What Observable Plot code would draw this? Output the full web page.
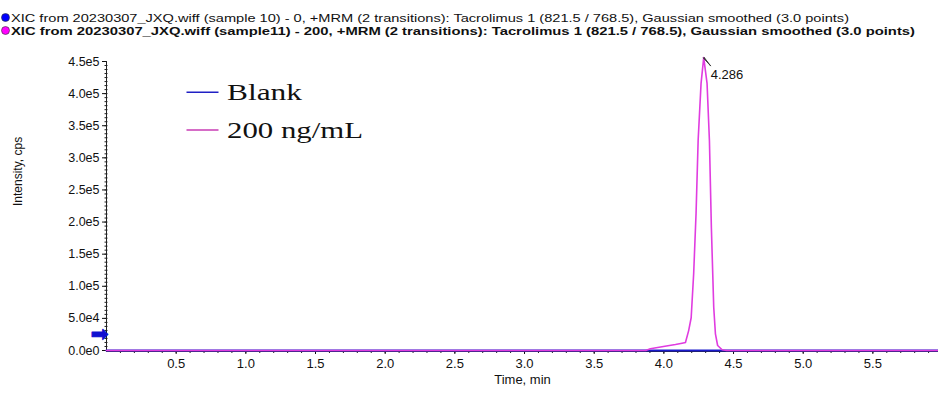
<!DOCTYPE html>
<html>
<head>
<meta charset="utf-8">
<script src="https://cdn.jsdelivr.net/npm/d3@7"></script>
<script src="https://cdn.jsdelivr.net/npm/@observablehq/plot@0.6"></script>
<style>
  html, body { margin: 0; padding: 0; background: #fff; }
  #wrap { position: relative; width: 938px; height: 394px; overflow: hidden; }
  #wrap svg { display: block; }
  #legend { position: absolute; left: 0; top: 0; pointer-events: none; }
</style>
</head>
<body>
<div id="wrap"></div>
<script>
// ---- data ----
const headerLines = [
  "XIC from 20230307_JXQ.wiff (sample 10) - 0, +MRM (2 transitions): Tacrolimus 1 (821.5 / 768.5), Gaussian smoothed (3.0 points)",
  "XIC from 20230307_JXQ.wiff (sample11) - 200, +MRM (2 transitions): Tacrolimus 1 (821.5 / 768.5), Gaussian smoothed (3.0 points)"
];
const seriesNames = ["Blank", "200 ng/mL"];
const seriesColors = ["#1a1acc", "#e03ce0"];
const legendColors = ["#2020c4", "#c83cb4"];

// Blank (sample 10): flat baseline
const tBlank = [0, 3.9, 4.42, 5.971];
const iBlank = [0, 0, 0, 0];

// 200 ng/mL (sample 11)
const t200 = [0, 3.87, 3.903, 3.997, 4.083, 4.131, 4.155, 4.178, 4.196, 4.214, 4.231, 4.246, 4.267, 4.286, 4.310, 4.327, 4.341, 4.358, 4.370, 4.386, 4.418, 4.45, 5.971];
const i200 = [0, 0, 2600, 6200, 9300, 11400, 12500, 31000, 51000, 120000, 213000, 327000, 416000, 456000, 416000, 327000, 191000, 67000, 26000, 7800, 1100, 0, 0];

const peakTime = [4.286];
const peakIntensity = [456000];
const peakLabels = ["4.286"];

const arrowLevel = [25000];

const xTicks = [0.5, 1.0, 1.5, 2.0, 2.5, 3.0, 3.5, 4.0, 4.5, 5.0, 5.5];
const xTickLabels = ["0.5", "1.0", "1.5", "2.0", "2.5", "3.0", "3.5", "4.0", "4.5", "5.0", "5.5"];
const yTicks = [0, 50000, 100000, 150000, 200000, 250000, 300000, 350000, 400000, 450000];
const yTickLabels = ["0.0e0", "5.0e4", "1.0e5", "1.5e5", "2.0e5", "2.5e5", "3.0e5", "3.5e5", "4.0e5", "4.5e5"];
const xMinor = d3.range(1, 60).map(k => k / 10);
const yMinor = d3.range(0, 72).map(k => k * 6250);

const xLabel = "Time, min";
const yLabel = "Intensity, cps";

// ---- tables ----
const blank = tBlank.map((t, k) => ({t, i: iBlank[k]}));
const conc = t200.map((t, k) => ({t, i: i200[k]}));
const peaks = peakTime.map((t, k) => ({t, i: peakIntensity[k], label: peakLabels[k]}));
const arrows = arrowLevel.map(i => ({t: 0, i}));

const wrap = document.getElementById("wrap");

// ---- header ----
const header = d3.create("svg").attr("width", 938).attr("height", 40);
const headerY = [22, 35];
const headerLen = [838, 904];
const dotColors = ["#0000ff", "#ff00ff"];
headerLines.forEach((txt, k) => {
  header.append("circle").attr("cx", 5.5).attr("cy", headerY[k] - 4.5).attr("r", 4)
    .attr("fill", dotColors[k]).attr("stroke", "#333").attr("stroke-width", 0.6);
  header.append("text").attr("x", 11).attr("y", headerY[k])
    .attr("font-family", "Liberation Sans, Arial, sans-serif")
    .attr("font-size", 11.5)
    .attr("font-weight", k === 1 ? "bold" : "normal")
    .attr("fill", "#111")
    .attr("textLength", headerLen[k])
    .attr("lengthAdjust", "spacingAndGlyphs")
    .text(txt);
});
wrap.appendChild(header.node());

// ---- chart ----
const chart = Plot.plot({
  width: 938,
  height: 354,
  marginLeft: 106,
  marginRight: 0,
  marginTop: 21,
  marginBottom: 44,
  x: {domain: [0, 5.971], label: null},
  y: {domain: [0, 450000], label: null},
  style: {fontFamily: "Liberation Sans, Arial, sans-serif", fontSize: "12px", background: "white", color: "#111"},
  marks: [
    Plot.axisY({ticks: yMinor, tickSize: 3, tickFormat: () => "", stroke: "#222", dx: 1.5}),
    Plot.axisY({ticks: yTicks, tickSize: 4, tickPadding: 3, fontSize: 12.5,
      tickFormat: d => yTickLabels[yTicks.indexOf(d)]}),
    Plot.axisX({ticks: xMinor, tickSize: 3, tickFormat: () => "", stroke: "#222"}),
    Plot.axisX({ticks: xTicks, tickSize: 4, tickPadding: 4, fontSize: 13,
      tickFormat: d => xTickLabels[xTicks.indexOf(d)]}),
    Plot.ruleX([0], {y1: 0, y2: 450000, stroke: "#222"}),
    Plot.ruleY([0], {stroke: "#222", dy: 1}),
    Plot.line(blank, {x: "t", y: "i", stroke: seriesColors[0], strokeWidth: 2.2}),
    Plot.line(conc, {x: "t", y: "i", stroke: seriesColors[1], strokeWidth: 1.6}),
    Plot.vector(peaks, {x: "t", y: "i", length: 11, rotate: 140, anchor: "start", shape: "spike", r: 0.5, fill: "#333", stroke: "#333", strokeWidth: 0.8}),
    Plot.text(peaks, {x: "t", y: "i", text: "label", dx: 7, dy: 17, textAnchor: "start", fontSize: 13, fill: "#111"}),
    Plot.text(arrows, {x: "t", y: "i", text: () => "➡", dx: -7, fill: "#1010d0", stroke: "#1010d0", strokeWidth: 1, fontSize: 21, fontFamily: "DejaVu Sans"}),
    Plot.text([yLabel], {frameAnchor: "left", dx: -88, rotate: -90, fontSize: 12, fill: "#111"}),
    Plot.text([xLabel], {frameAnchor: "bottom", dy: 33, fontSize: 13, fill: "#111"})
  ]
});
wrap.appendChild(chart);

// ---- legend (overlay) ----
const legend = d3.create("svg").attr("id", "legend").attr("width", 938).attr("height", 394);
const legLineY = [92.3, 130];
const legTextY = [100, 138];
const legTextLen = [75, 136];
seriesNames.forEach((name, k) => {
  legend.append("line").attr("x1", 186.5).attr("x2", 218.5).attr("y1", legLineY[k]).attr("y2", legLineY[k])
    .attr("stroke", legendColors[k]).attr("stroke-width", 1.6);
  legend.append("text").attr("x", 227).attr("y", legTextY[k])
    .attr("font-family", "Liberation Serif, Times New Roman, serif")
    .attr("font-size", 23)
    .attr("fill", "#111")
    .attr("textLength", legTextLen[k])
    .attr("lengthAdjust", "spacingAndGlyphs")
    .text(name);
});
wrap.appendChild(legend.node());
</script>
</body>
</html>
